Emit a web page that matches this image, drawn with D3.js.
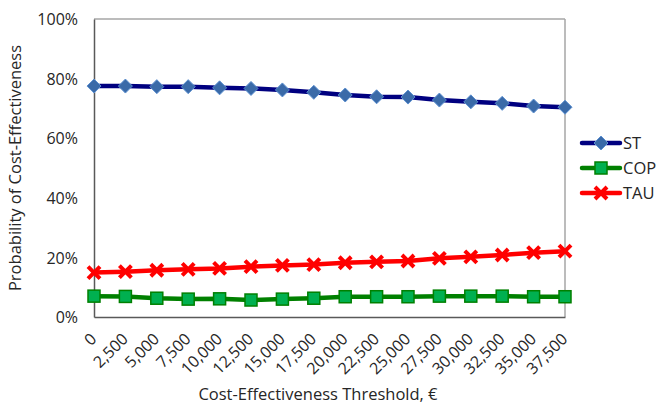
<!DOCTYPE html>
<html><head><meta charset="utf-8">
<script src="https://cdn.jsdelivr.net/npm/d3@7"></script>
<style>body{margin:0;background:#fff}svg{display:block}text{font-family:"Open Sans",sans-serif;fill:#262626}</style>
</head><body>
<svg id="c" width="657" height="407"></svg>
<script>
const categories = ["0","2,500","5,000","7,500","10,000","12,500","15,000","17,500","20,000","22,500","25,000","27,500","30,000","32,500","35,000","37,500"];
const stValues  = [77.5,77.5,77.3,77.3,76.9,76.7,76.2,75.4,74.5,73.9,73.8,72.8,72.2,71.7,70.8,70.4];
const copValues = [7.0,6.9,6.3,6.0,6.1,5.7,6.0,6.3,6.8,6.8,6.8,7.0,7.0,7.0,6.8,6.8];
const tauValues = [14.9,15.2,15.7,16.0,16.3,16.9,17.3,17.6,18.2,18.5,18.8,19.7,20.2,20.8,21.6,22.1];
const yTicks = [0,20,40,60,80,100];
const seriesNames = ["ST","COP","TAU"];

const svg = d3.select("#c");
const L=94, R=565, T=19, B=317;
const x = d3.scalePoint().domain(categories).range([L,R]);
const y = d3.scaleLinear().domain([0,100]).range([B,T]);

// frame
svg.append("line").attr("x1",L).attr("x2",R).attr("y1",T).attr("y2",T).attr("stroke","#a6a6a6").attr("stroke-width",1.5);
svg.append("line").attr("x1",R).attr("x2",R).attr("y1",T).attr("y2",B).attr("stroke","#a6a6a6").attr("stroke-width",1.5);

// y axis
const ya = svg.append("g").attr("transform",`translate(${L},0)`)
  .call(d3.axisLeft(y).tickValues(yTicks).tickFormat(d=>d+"%").tickSize(0).tickPadding(16));
ya.select(".domain").attr("stroke","#595959").attr("stroke-width",1.5);
ya.selectAll("text").style("font-size","16px").style("font-family","'Open Sans',sans-serif").attr("fill","#262626").attr("dy","0.35em");

// x axis
const xa = svg.append("g").attr("transform",`translate(0,${B})`)
  .call(d3.axisBottom(x).tickSize(0).tickPadding(0));
xa.select(".domain").attr("stroke","#595959").attr("stroke-width",1.5);
xa.selectAll("text").style("font-size","16px").style("font-family","'Open Sans',sans-serif").attr("fill","#262626")
  .attr("text-anchor","end").attr("dy",null).attr("y",0)
  .attr("transform","translate(3,23) rotate(-45)");

// axis titles
svg.append("text").attr("transform",`translate(21,${(T+B)/2}) rotate(-90)`).attr("text-anchor","middle")
  .style("font-size","16.5px").text("Probability of Cost-Effectiveness");
svg.append("text").attr("x",318).attr("y",400).attr("text-anchor","middle")
  .style("font-size","16.5px").text("Cost-Effectiveness Threshold, €");

const series = [
  {name:seriesNames[0], vals:stValues, line:"#000080", marker:"diamond", fill:"#3a6aa8", mstroke:"#5b8fd0"},
  {name:seriesNames[1], vals:copValues, line:"#008000", marker:"square", fill:"#00b050", mstroke:"#008000"},
  {name:seriesNames[2], vals:tauValues, line:"#ff0000", marker:"x", fill:"#ff0000", mstroke:"#ff0000"}
];

function drawMarker(g, type, cx, cy, s){
  if(type==="diamond"){
    g.append("path").attr("d",`M${cx},${cy-7}L${cx+7},${cy}L${cx},${cy+7}L${cx-7},${cy}Z`)
      .attr("fill",s.fill).attr("stroke",s.mstroke).attr("stroke-width",1);
  } else if(type==="square"){
    g.append("rect").attr("x",cx-6).attr("y",cy-6).attr("width",12).attr("height",12)
      .attr("fill",s.fill).attr("stroke",s.mstroke).attr("stroke-width",1.5);
  } else {
    g.append("path").attr("d",`M${cx-6},${cy-6}L${cx+6},${cy+6}M${cx-6},${cy+6}L${cx+6},${cy-6}`)
      .attr("stroke",s.fill).attr("stroke-width",4).attr("fill","none");
  }
}

const line = d3.line().x((d,i)=>x(categories[i])).y(d=>y(d));
series.forEach(s=>{
  svg.append("path").datum(s.vals).attr("d",line).attr("fill","none").attr("stroke",s.line).attr("stroke-width",4.5).attr("stroke-linejoin","round");
  const g = svg.append("g");
  s.vals.forEach((v,i)=>drawMarker(g,s.marker,x(categories[i]),y(v),s));
});

// legend
const legendY = [143,168,193];
series.forEach((s,i)=>{
  const g = svg.append("g");
  g.append("line").attr("x1",582).attr("x2",620).attr("y1",legendY[i]).attr("y2",legendY[i]).attr("stroke",s.line).attr("stroke-width",4.5).attr("stroke-linecap","round");
  drawMarker(g,s.marker,601,legendY[i],s);
  g.append("text").attr("x",623).attr("y",legendY[i]).attr("dy","0.35em").style("font-size","16.5px").text(s.name);
});
</script>
</body></html>
